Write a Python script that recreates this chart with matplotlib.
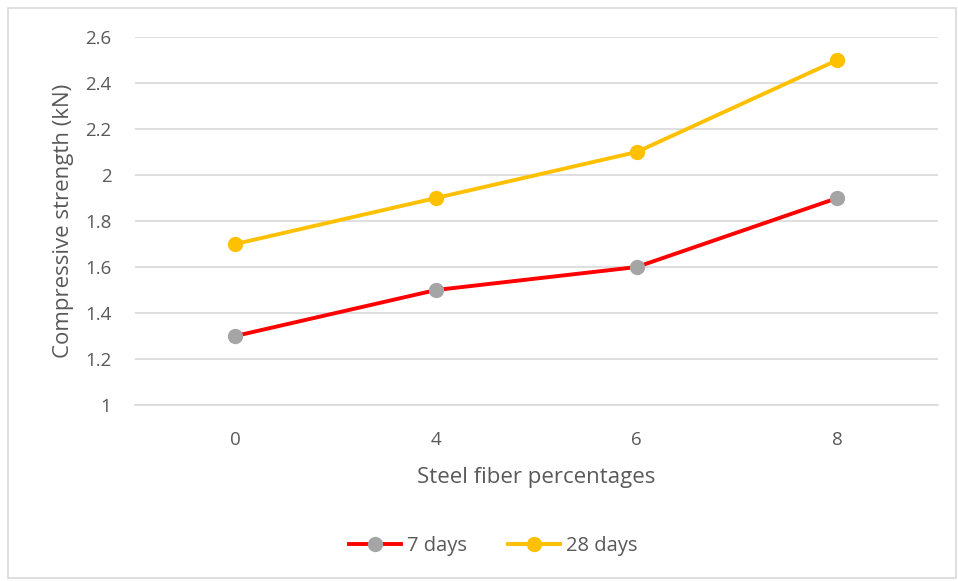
import matplotlib
matplotlib.use("Agg")
import matplotlib.pyplot as plt
from matplotlib.patches import Rectangle

# ── data ────────────────────────────────────────────────────────────────
categories = ["0", "4", "6", "8"]
days_7 = [1.3, 1.5, 1.6, 1.9]
days_28 = [1.7, 1.9, 2.1, 2.5]
y_ticks = [1, 1.2, 1.4, 1.6, 1.8, 2, 2.2, 2.4, 2.6]
y_tick_labels = ["1", "1.2", "1.4", "1.6", "1.8", "2", "2.2", "2.4", "2.6"]

TEXT = "#595959"
plt.rcParams["font.family"] = ["Open Sans", "DejaVu Sans"]

fig = plt.figure(figsize=(9.58, 5.81), dpi=100)
ax = fig.add_axes([0.1409, 0.3029, 0.838, 0.6334])

# chart border
fig.patches.append(Rectangle((8 / 958, 3 / 581), 948 / 958, 570 / 581,
                             transform=fig.transFigure, fill=False,
                             edgecolor="#d9d9d9", linewidth=1.2))

x = list(range(len(categories)))
ax.plot(x, days_7, color="#FF0000", linewidth=2.8, marker="o", markersize=10,
        markerfacecolor="#A5A5A5", markeredgecolor="#A5A5A5", label="7 days",
        zorder=3)
ax.plot(x, days_28, color="#FFC000", linewidth=2.8, marker="o", markersize=10,
        markerfacecolor="#FFC000", markeredgecolor="#FFC000", label="28 days",
        zorder=3)

ax.set_xlim(-0.5, len(categories) - 0.5)
ax.set_ylim(1, 2.6)
ax.set_xticks(x)
ax.set_xticklabels(categories)
ax.set_yticks(y_ticks)
ax.set_yticklabels(y_tick_labels)
ax.tick_params(axis="both", length=0, labelsize=13.5, colors=TEXT)
ax.tick_params(axis="y", pad=17)
ax.tick_params(axis="x", pad=19)

ax.grid(True, axis="y", color="#d9d9d9", linewidth=1.2)
ax.set_axisbelow(True)
for side in ["top", "right", "left"]:
    ax.spines[side].set_visible(False)
ax.spines["bottom"].set_color("#d9d9d9")
ax.spines["bottom"].set_linewidth(1.2)

ax.set_xlabel("Steel fiber percentages", fontsize=16, color=TEXT, labelpad=13)
ax.set_ylabel("Compressive strength (kN)", fontsize=16, color=TEXT, labelpad=8)

fig.legend(loc="center", bbox_to_anchor=(0.515, 0.06), ncol=2, frameon=False,
           fontsize=14.5, labelcolor=TEXT, handlelength=2.6, columnspacing=2.0,
           handletextpad=0.3)

plt.savefig("out.png", dpi=100)
plt.close()
